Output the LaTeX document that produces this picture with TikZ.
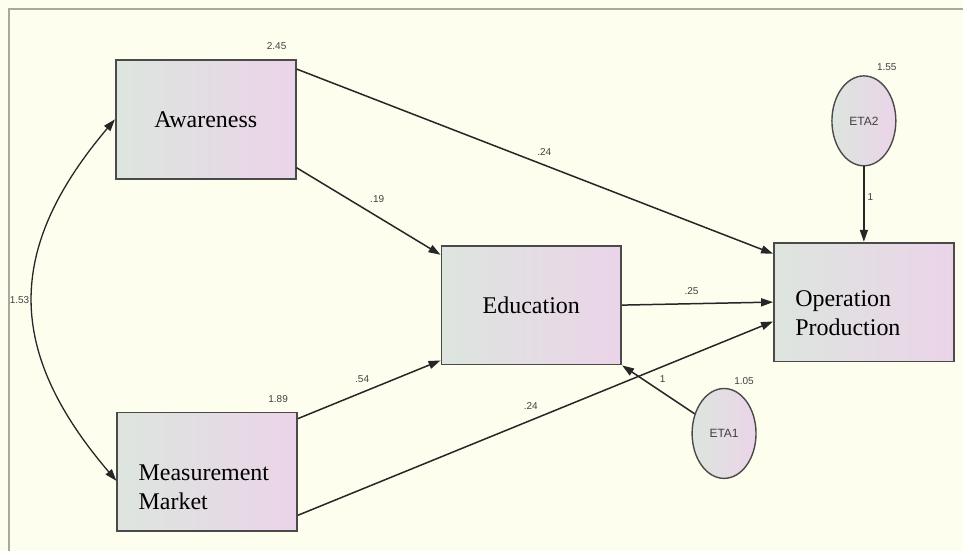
\documentclass[tikz,border=0pt]{standalone}
\usepackage{fontspec}
\setmainfont{Liberation Serif}
\newfontfamily\numfont{Liberation Sans}
\usetikzlibrary{arrows.meta, shapes.geometric, positioning}

\definecolor{bgyellow}{HTML}{FEFEEF}
\definecolor{framegray}{HTML}{A8A8A0}
\definecolor{boxleft}{HTML}{DDE5DE}
\definecolor{boxright}{HTML}{EBD4E9}
\definecolor{edgegray}{HTML}{4A4A4A}
\definecolor{numgray}{HTML}{404040}

\tikzset{
  var/.style={rectangle, draw=edgegray, line width=1.8pt, left color=boxleft, right color=boxright,
    minimum width=180pt, minimum height=119pt, inner sep=3pt, font=\fontsize{24}{30}\selectfont},
  err/.style={ellipse, draw=edgegray, line width=1.4pt, left color=boxleft, right color=boxright,
    minimum width=64pt, minimum height=90pt, inner sep=0pt, text=numgray,
    font=\numfont\fontsize{12}{14}\selectfont},
  boxtext/.style={align=left, inner sep=0pt, font=\fontsize{24}{29}\selectfont},
  num/.style={font=\numfont\fontsize{10}{12}\selectfont, text=numgray, inner sep=1pt},
  conn/.style={->, color=black!85, line width=1.5pt},
  cov/.style={<->, draw=black!85, line width=1.3pt}
}

\begin{document}
\begin{tikzpicture}[x=1pt, y=-1pt, >={Triangle[length=12pt, width=8pt]}]
		\fill[bgyellow] (0,0) rectangle (964,552);
		\draw[framegray, line width=2.5pt] (9,552) -- (9,9) -- (964,9);
		
		\node[var] (aw) at (206,119.5) {Awareness};
		\node[var] (ed) at (532,305.5) {Education};
		\node[var] (mm) at (207.5,472.5) {};
		\node[var] (op) at (865,302.5) {};
		\node[err] (eta2) at (865,121) {ETA2};
		\node[err] (eta1) at (725,434) {ETA1};
		
		\node[boxtext, anchor=west] (mmtext) at ([xshift=22pt, yshift=-15pt]mm.west) {Measurement\\Market};
		\node[boxtext, anchor=west] (optext) at ([xshift=22pt, yshift=-11pt]op.west) {Operation\\Production};
		
		\node[num, above left=8pt and 9pt of aw.north east] (vaw) {2.45};
		\node[num, above left=8pt and 9pt of mm.north east] (vmm) {1.89};
		\node[num, above right=3pt and 12pt of eta2.north] (veta2) {1.55};
		\node[num, above right=2pt and 9pt of eta1.north] (veta1) {1.05};
		
		\path[conn] ([yshift=-10pt]aw.north east) edge node[num, pos=.52, above=8pt] {.24} ([yshift=-12pt]op.north west)
		            ([yshift=12pt]aw.south east) edge node[num, pos=.56, above=12pt] {.19} ([yshift=-10pt]ed.north west)
		            (ed.east) edge node[num, pos=.46, above=7pt] {.25} (op.west)
		            ([yshift=-7pt]mm.north east) edge node[num, pos=.45, above=8pt] {.54} ([yshift=5pt]ed.south west)
		            ([yshift=17pt]mm.south east) edge node[num, pos=.49, above=9pt] {.24} ([yshift=41pt]op.south west)
		            (eta2.south) edge node[num, pos=.4, right=2pt] {1} (op.north)
		            (eta1) edge node[num, pos=.44, above=8pt] {1} (ed.south east);
		
		\draw[cov] (aw.west) .. controls +(-110,130) and +(-111,-130) .. ([yshift=-9pt]mm.west)
		           node[num, pos=.5, left=2pt] (cv) {1.53};
	\end{tikzpicture}
\end{document}
